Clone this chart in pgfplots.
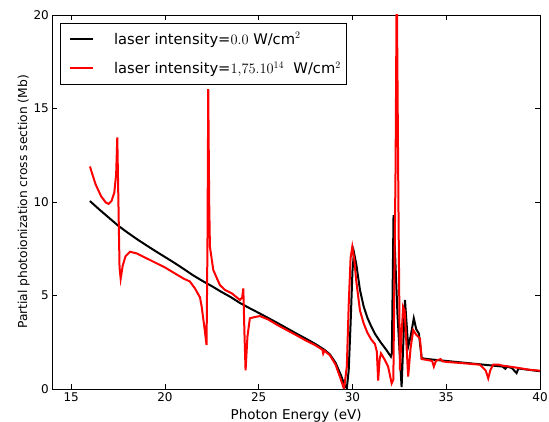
\documentclass[border=0pt]{standalone}
\usepackage{fontspec}
\setmainfont{DejaVu Sans}
\usepackage{pgfplots}
\pgfplotsset{compat=1.18}
\begin{document}
\begin{tikzpicture}
\begin{axis}[
    scale only axis,
    width=487.6pt, height=374pt,
    xmin=14, xmax=40,
    ymin=0, ymax=20,
    xtick={15,20,25,30,35,40},
    ytick={0,5,10,15,20},
    tick align=inside,
    major tick length=5pt,
    tick style={black, line width=0.6pt},
    axis line style={black, line width=0.8pt},
    xlabel={Photon Energy (eV)},
    ylabel={Partial photoionization cross section (Mb)},
    xlabel style={font=\fontsize{13.5}{15}\selectfont},
    ylabel style={font=\fontsize{12.3}{14}\selectfont},
    tick label style={font=\fontsize{12}{14}\selectfont},
    /pgf/number format/assume math mode=true,
    xlabel shift=1pt,
    ylabel shift=-3pt,
    legend cell align={left},
    legend style={at={(axis description cs:0.0156,0.978)}, anchor=north west,
        font=\fontsize{14.7}{16}\selectfont, draw=black, line width=0.6pt,
        inner xsep=3pt, inner ysep=7pt, row sep=12pt, column sep=18pt},
    legend image code/.code={\path (0pt,0pt);
        \draw[#1, line width=2pt] (5.7pt,0pt) -- (28.7pt,0pt);},
]
\addplot[black, line width=2pt] coordinates {
    (16,10.05) (16.5,9.6) (17,9.17) (17.5,8.74) (18,8.37) (18.5,8.02) (19,7.69)
    (19.5,7.37) (20,7.06) (20.5,6.75) (21,6.42) (21.5,6.08) (22,5.78) (22.5,5.5)
    (23,5.2) (23.5,4.92) (24,4.6) (24.5,4.33) (25,4.07) (25.5,3.8) (26,3.53)
    (26.5,3.25) (27,2.97) (27.5,2.7) (28,2.42) (28.5,2.1) (28.8,1.85) (29.1,1.4)
    (29.4,0.7) (29.6,0.15) (29.7,0.05) (29.8,1.0) (29.9,3.5) (30.0,6.3) (30.08,7.3)
    (30.2,6.7) (30.4,5.3) (30.6,4.4) (30.8,3.8) (31.0,3.35) (31.2,2.95) (31.5,2.5)
    (31.8,2.1) (32.05,1.73) (32.1,1.9) (32.19,9.3) (32.4,4) (32.62,0.1) (32.8,4.76)
    (32.97,2.26) (33.1,2.8) (33.27,3.78) (33.4,3.2) (33.54,2.97) (33.69,1.65)
    (34,1.6) (35,1.5) (36,1.4) (37,1.3) (38,1.2) (38.15,1.08) (38.25,1.2) (38.5,1.12)
    (38.75,0.85) (38.85,1.1) (39.2,1.05) (40,0.95)
};
\addlegendentry{laser intensity=$0.0$ W/cm$^2$}
\addplot[red, line width=2pt] coordinates {
    (16,11.9) (16.3,10.95) (16.6,10.3) (16.85,9.97) (17.0,9.9) (17.15,10.05)
    (17.3,10.5) (17.4,11.5) (17.46,13.46) (17.52,10) (17.58,6.5) (17.64,5.9)
    (17.75,6.6) (17.9,7.1) (18.14,7.34) (18.5,7.25) (19,7.0) (19.5,6.75) (20,6.5)
    (20.5,6.2) (21,5.9) (21.33,5.75) (21.6,5.38) (21.87,4.9) (21.96,4.4) (22.1,3.33)
    (22.22,2.35) (22.27,8) (22.31,16.03) (22.36,10) (22.4,7.6) (22.58,6.36)
    (22.93,5.56) (23.2,5.3) (23.56,5.12) (24.0,4.76) (24.12,4.9) (24.18,5.38)
    (24.24,3.0) (24.3,1.0) (24.4,2.8) (24.53,3.78) (24.8,3.85) (25.07,3.9)
    (25.5,3.72) (26,3.42) (26.5,3.15) (27,2.88) (27.5,2.6) (28,2.35) (28.4,2.1)
    (28.44,1.9) (28.5,2.05) (28.8,1.8) (29.1,1.3) (29.35,0.6) (29.55,0.0)
    (29.7,1.2) (29.8,4.5) (29.9,7.0) (29.99,7.6) (30.1,6.9) (30.2,5.8) (30.4,4.2)
    (30.6,3.5) (30.8,3.0) (31.0,2.65) (31.2,2.4) (31.3,2.0) (31.37,0.45) (31.45,1.6)
    (31.52,1.9) (31.7,1.6) (31.9,1.2) (32.09,0.3) (32.18,0.5) (32.3,12) (32.36,22)
    (32.45,10) (32.53,1.0) (32.6,2.5) (32.7,4.4) (32.78,4.2) (32.9,2.0) (32.97,0.66)
    (33.1,2.2) (33.24,3.15) (33.4,2.9) (33.6,2.7) (33.69,1.6) (34,1.55) (34.25,1.5)
    (34.34,1.2) (34.45,1.5) (34.7,1.6) (34.8,1.48) (35,1.45) (36,1.37) (36.8,1.3)
    (37.1,1.0) (37.24,0.57) (37.35,1.0) (37.5,1.3) (37.8,1.3) (38,1.25) (38.5,1.18)
    (39,1.1) (39.5,1.02) (40,0.98)
};
\addlegendentry{laser intensity=$1{,}75.10^{14}$\ \ W/cm$^2$}
\coordinate (bl) at (rel axis cs:0,0);
\end{axis}
\pgfresetboundingbox
\path (bl) ++(-52.4pt,-33pt) rectangle ++(549pt,422pt);
\end{tikzpicture}
\end{document}
